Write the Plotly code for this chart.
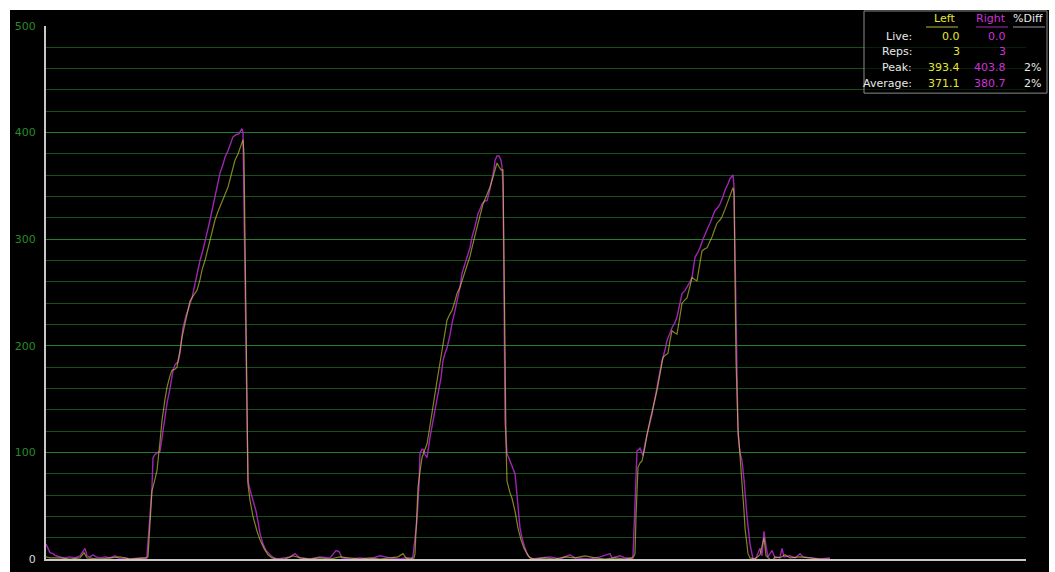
import plotly.graph_objects as go

# ---------------- data (time index, force) ----------------
left_t = [46,50,60,70,80,84,87,100,110,120,130,140,147,
          148,150,152,155,157,160,162,165,167,170,172,175,177,180,182,186,190,194,197,200,202,205,208,212,215,218,222,225,228,231,235,238,240,242,243,
          244,245,246,247,248,250,253,257,260,264,268,272,276,
          285,293,300,310,320,330,340,350,360,370,380,390,398,403,406,410,414,
          415,416,418,420,422,425,427,430,432,435,437,440,442,445,447,450,452,455,457,460,462,465,467,470,472,475,477,480,483,487,490,493,495,497,499,501,503,
          504,505,506,507,510,512,515,518,521,524,527,530,535,
          545,555,565,575,585,595,605,615,625,633,
          635,636,638,640,642,645,647,650,652,655,657,660,663,665,668,670,672,675,677,680,682,685,687,690,692,695,697,700,702,705,707,710,712,715,717,720,722,725,727,730,733,734,
          735,736,738,740,742,744,745,747,748,750,755,
          760,764,766,770,772,775,780,785,790,800,810,820,830]
left_v = [2,1,1,0,1,6,1,0,1,2,0,1,1,
          2,30,64,75,83,110,130,150,161,172,177,178,180,196,208,225,242,248,252,262,271,280,292,305,318,326,336,342,349,360,374,380,386,390,393.4,
          380,300,200,120,70,55,40,26,18,10,4,1,0,
          0,3,1,0,1,0,2,1,0,1,0,1,2,5,1,0,1,
          5,30,67,82,95,103,108,125,139,155,167,185,198,212,224,230,233,242,249,255,261,268,274,284,292,302,311,322,333,342,349,358,365,371.5,368,365,365,
          300,200,110,73,62,57,45,29,18,10,5,1,0,
          1,0,2,1,3,1,0,1,0,1,
          5,40,86,90,92,105,117,130,139,150,158,172,189,191,193,205,214,212,211,228,240,243,245,256,264,262,261,278,289,291,292,298,302,310,315,318,321,328,333,339,348.4,343,
          250,186,123,98,76,45,29,12,5,1,0,
          4,20,3,-1,-2,2,1,4,1,2,1,0,0]

right_t = [46,48,50,53,56,60,65,70,75,80,85,87,90,93,96,100,105,110,115,118,120,125,130,140,146,
           147,150,152,153,155,158,160,163,165,167,170,173,175,178,180,183,186,189,192,195,197,200,203,205,208,210,212,215,218,220,223,225,228,230,233,236,239,242,243,
           244,245,246,247,248,250,253,256,258,260,263,266,270,274,278,
           285,290,295,300,310,320,330,336,339,342,350,360,370,380,390,400,405,412,
           413,415,417,419,420,422,423,425,427,430,433,436,438,441,443,445,447,450,452,455,457,460,462,465,467,470,472,475,478,480,482,485,487,490,492,494,495,497,499,501,502,503,
           504,505,507,510,512,515,517,520,522,525,528,532,
           540,550,560,570,575,590,600,610,612,620,625,632,
           633,635,637,640,643,645,647,650,652,655,657,660,662,665,667,670,672,675,677,680,682,685,687,690,692,694,695,698,700,703,705,708,710,713,715,718,720,723,725,728,730,732,733,734,
           735,736,737,738,740,742,744,745,747,750,753,756,
           760,762,764,766,768,772,775,780,782,784,790,795,800,803,810,820,830]
right_v = [14,10,6,5,3,2,1,2,1,3,10,3,2,4,2,1,2,1,3,1,0,1,0,1,1,
           3,40,67,95,98,100,101,120,135,146,160,177,182,185,193,217,228,236,245,258,268,280,290,299,310,318,327,340,355,362,370,377,383,388,396,398,399,403.8,400,
           330,255,190,130,73,65,55,45,35,24,14,8,4,1,0,
           1,2,5,1,0,2,1,8,7,1,0,1,0,3,1,0,1,1,
           3,20,36,70,99,103,103,98,95,114,130,148,155,170,186,193,198,210,221,233,242,255,268,276,283,292,302,312,324,328,333,336,336,347,355,366,374,378,378,374,368,349,
           255,130,99,92,86,80,60,29,20,10,3,0,
           1,2,0,4,1,0,2,5,1,3,1,1,
           3,50,101,104,97,108,117,128,136,150,161,175,186,196,205,212,217,222,227,240,249,252,255,260,264,275,283,288,292,300,305,311,315,322,327,330,333,340,346,352,357,359,360.3,349,
           280,217,155,117,100,92,75,61,40,14,0,1,
           10,3,26,12,2,8,1,2,10,2,3,1,5,2,1,0,1]

y_ticks = [0, 100, 200, 300, 400, 500]

table_rows = ["Live:", "Reps:", "Peak:", "Average:"]
left_stats = ["0.0", "3", "393.4", "371.1"]
right_stats = ["0.0", "3", "403.8", "380.7"]
diff_stats = ["", "", "2%", "2%"]

# ---------------- figure ----------------
W, H = 1055, 578          # page height as actually laid out
TARGET_H = 572
SY = H / TARGET_H         # vertical factor between target picture and page

def fy(y):
    return y * SY

ML, MR = 46, W - 1026
MT = fy(26)
MB = H - fy(558)
PW, PH = W - ML - MR, H - MT - MB

def px(x):
    return (x - ML) / PW

def py(y):
    return (H - MB - fy(y)) / PH

fig = go.Figure()
fig.add_trace(go.Scatter(x=right_t, y=right_v, mode="lines",
                         line=dict(color="#b02ac6", width=1.4), opacity=0.9,
                         hoverinfo="skip", name="Right"))
fig.add_trace(go.Scatter(x=left_t, y=left_v, mode="lines",
                         line=dict(color="#dcdc3c", width=1.2), opacity=0.6,
                         hoverinfo="skip", name="Left"))

ticktext = ["<span style='color:#d8d8d8'>0</span>"] + [str(v) for v in y_ticks[1:]]

fig.update_layout(
    width=W, height=H, autosize=False,
    margin=dict(l=ML, r=MR, t=MT, b=MB, pad=0),
    paper_bgcolor="white",
    plot_bgcolor="black",
    showlegend=False,
    font=dict(family="DejaVu Sans", size=11, color="#e0e0e0"),
    xaxis=dict(range=[ML, ML + PW], showgrid=False, zeroline=False,
               showticklabels=False, ticks="", showline=True,
               linecolor="#c8c8c8", linewidth=2),
    yaxis=dict(range=[0, 500], tickvals=y_ticks, ticktext=ticktext,
               tickfont=dict(color="#2a8a2a", size=11, family="DejaVu Sans"),
               ticks="", ticklabelstandoff=6,
               showgrid=True, gridcolor="#22802a", gridwidth=1,
               minor=dict(dtick=20, showgrid=True, gridcolor="#15501a", gridwidth=1),
               zeroline=False, showline=True, linecolor="#c8c8c8", linewidth=2),
)

shapes = []
# black panel behind everything
shapes.append(dict(type="rect", xref="paper", yref="paper",
                   x0=px(10), x1=px(1049), y0=py(TARGET_H + 2), y1=py(10),
                   fillcolor="black", line=dict(width=0), layer="below"))
# stats box
shapes.append(dict(type="rect", xref="paper", yref="paper",
                   x0=px(864), x1=px(1047), y0=py(93), y1=py(11),
                   fillcolor="rgba(0,0,0,0.6)", line=dict(color="#8a8a8a", width=1),
                   layer="above"))
# header underlines
for x0, x1, c in [(926, 958, "#b8b83a"), (976, 1008, "#a030a8"), (1013, 1045, "#9a9a9a")]:
    shapes.append(dict(type="line", xref="paper", yref="paper",
                       x0=px(x0), x1=px(x1), y0=py(27), y1=py(27),
                       line=dict(color=c, width=1), layer="above"))
fig.update_layout(shapes=shapes)

ann = []
def add_text(x, y, text, color, anchor="right"):
    ann.append(dict(xref="paper", yref="paper", x=px(x), y=py(y), text=text,
                    showarrow=False, xanchor=anchor, yanchor="middle",
                    font=dict(color=color, size=11, family="DejaVu Sans")))

add_text(957, 19, "Left", "#e6e632")
add_text(1008, 19, "Right", "#d030d8")
add_text(1045, 19, "%Diff", "#e8e8e8")
row_y = [36, 51, 67, 83]
for i, lab in enumerate(table_rows):
    add_text(914, row_y[i], lab, "#e8e8e8")
    add_text(962, row_y[i], left_stats[i], "#e6e632")
    add_text(1008, row_y[i], right_stats[i], "#d030d8")
    if diff_stats[i]:
        add_text(1043, row_y[i], diff_stats[i], "#e8e8e8")
fig.update_layout(annotations=ann)

fig.write_html("out.html",
               config={"displayModeBar": False, "responsive": False},
               post_script="document.body.style.margin='0';document.body.style.overflow='hidden';")
